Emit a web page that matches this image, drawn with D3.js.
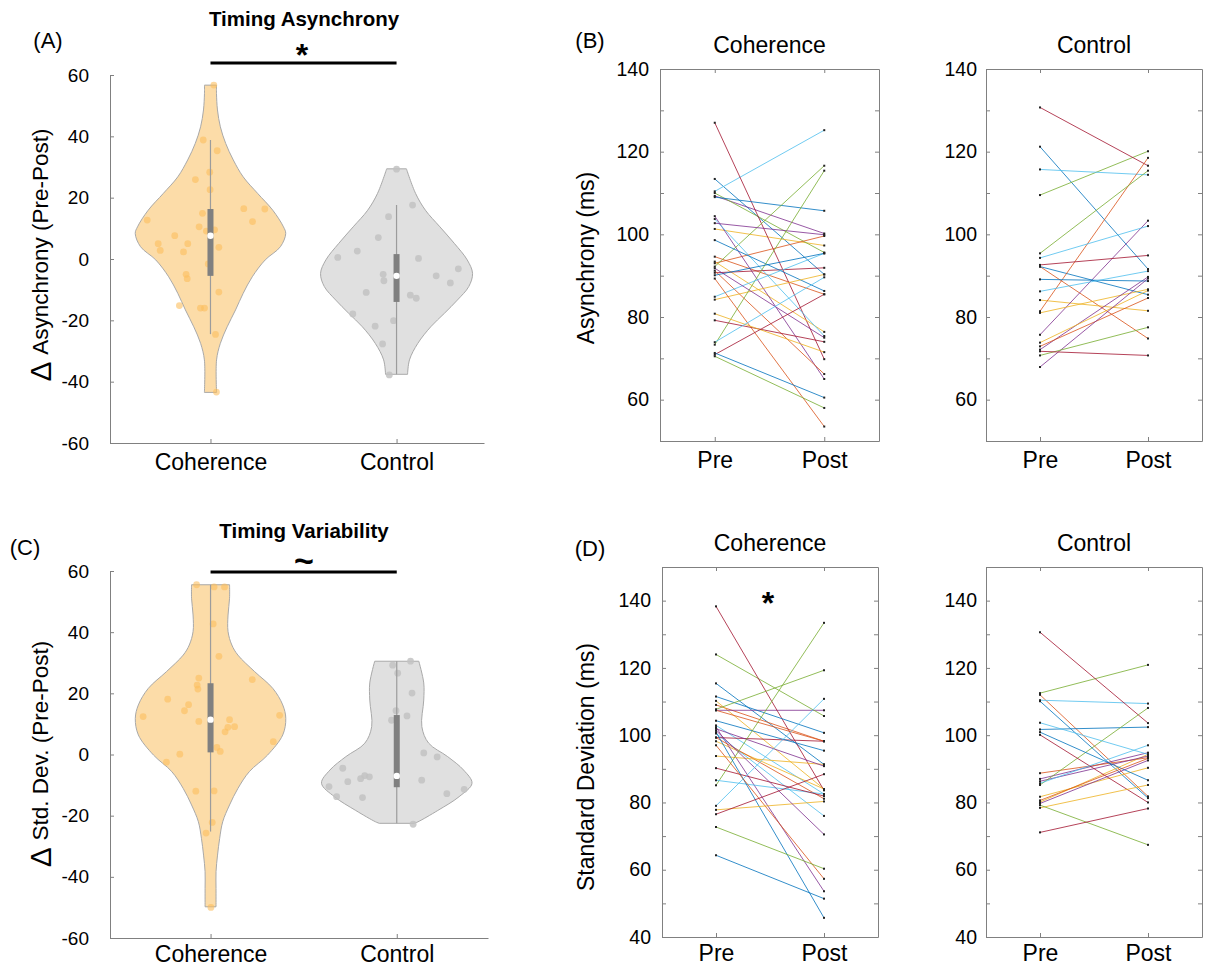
<!DOCTYPE html>
<html><head><meta charset="utf-8">
<script src="https://cdn.jsdelivr.net/npm/d3@7"></script>
<style>
body{margin:0;background:#fff}
text{font-family:"Liberation Sans",Arial,Helvetica,sans-serif;fill:#000}
</style>
</head><body>
<svg id="c" width="1205" height="969"></svg>
<script>
// ---------------- DATA ----------------
const groups = ["Coherence", "Control"];
const sessions = ["Pre", "Post"];
const palette = ["#0072BD","#D95319","#EDB120","#7E2F8E","#77AC30","#4DBEEE","#A2142F"];

// Panel A: change in asynchrony (Pre-Post), jittered points (value, jitter in category units)
const asyncCohVals = [56.7,38.8,35.3,28.3,25.9,22.6,16.4,16.3,14.9,12.2,12.7,10.5,9.5,9.1,7.6,5.0,5.0,2.8,2.3,3.8,-1.6,-5.0,-6.4,-10.8,-15.2,-16.0,-16.0,-24.6,-43.4];
const asyncCohJit  = [.018,-.039,.036,-.004,-.081,-.002,.179,.292,-.043,.226,-.340,-.061,.022,-.022,-.192,-.281,-.122,-.270,-.145,.045,-.012,-.131,-.125,.045,-.167,-.054,-.032,.027,.032];
const asyncCtlVals = [29.3,17.6,13.8,7.0,2.6,0.5,0.2,-3.2,-5.0,-7.1,-5.5,-7.8,-10.9,-11.8,-12.8,-17.9,-21.9,-20.1,-27.7,-37.8];
const asyncCtlJit  = [0,.086,-.043,-.098,-.211,-.316,.118,.332,-.072,-.068,.213,.289,-.163,.074,.106,-.235,-.115,-.016,-.075,-.039];
// violin density profiles (value, relative density)
const asyncCohProfV = [56.7,54.0,48.6,43.1,37.7,32.3,26.8,21.4,15.9,10.5,8.3,4.0,-0.3,-5.8,-11.2,-16.6,-22.1,-27.5,-32.9,-43.5];
const asyncCohProfD = [.079,.079,.092,.13,.20,.30,.43,.62,.82,.96,.99,.92,.72,.55,.43,.33,.22,.13,.08,.08];
const asyncCtlProfV = [29.4,21.4,15.9,10.5,5.1,-0.3,-4.7,-9.0,-13.4,-17.7,-22.1,-27.5,-32.9,-37.6];
const asyncCtlProfD = [.13,.25,.38,.57,.76,.93,1.0,.95,.80,.63,.45,.28,.17,.145];
// box stats: [whiskerLow, q1, median, q3, whiskerHigh]
const asyncCohBox = [-24.5,-5.5,7.6,16.3,38.8];
const asyncCtlBox = [-37.6,-14.0,-5.5,1.6,17.6];

// Panel C: change in std. dev.
const sdCohVals = [55.5,54.8,54.8,42.7,32.1,25.0,24.5,22.7,21.4,18.1,16.3,14.3,12.4,10.8,11.4,12.8,9.1,8.9,7.4,4.2,2.3,1.0,0.1,-2.5,-12.0,-11.9,-22.2,-25.7,-50.0];
const sdCohJit  = [-.075,.019,.075,.014,.045,-.063,.224,-.072,-.068,-.230,-.118,-.140,-.362,-.063,.102,.371,.129,.093,.078,.337,.034,.052,-.165,-.237,-.079,.019,.009,-.024,.002];
const sdCtlVals = [29.2,30.5,26.6,20.1,14.3,11.2,12.6,0.5,-0.8,-4.5,-6.9,-7.3,-7.9,-8.9,-8.4,-10.5,-12.8,-13.8,-14.1,-22.8,-11.4];
const sdCtlJit  = [-.022,.074,.005,.082,-.004,-.028,.055,.145,.217,-.290,-.172,-.147,-.194,-.263,.134,-.364,.269,-.323,-.184,.088,.362];
const sdCohProfV = [55.5,51.1,45.6,40.2,35.8,32.5,27.1,21.6,16.2,11.8,6.4,-0.2,-5.6,-11.1,-16.5,-22.0,-27.4,-32.9,-38.3,-43.8,-49.8];
const sdCohProfD = [.25,.25,.23,.23,.28,.36,.58,.82,.95,.99,.95,.75,.51,.36,.25,.16,.12,.092,.072,.072,.072];
const sdCtlProfV = [30.5,23.4,17.8,9.1,3.7,-0.7,-5.1,-9.4,-13.8,-18.3,-22.0,-22.5];
const sdCtlProfD = [.29,.355,.355,.33,.42,.67,.88,.99,.82,.54,.28,.23];
const sdCohBox = [-25.2,0.7,11.4,23.3,55.5];
const sdCtlBox = [-22.5,-10.7,-7.0,12.9,30.5];

// Panel B: asynchrony (ms), one line per participant, Pre -> Post
const asyncCohPre  = [113.4,94.6,101.3,109.3,110.0,110.4,127.0, 109.0,93.0,93.4,104.4,92.2,103.7,90.7, 98.6,91.2,84.2,102.7,73.3,84.9,79.2, 90.1,89.3,80.8,91.8,70.5,73.9,70.9, 71.3];
const asyncCohPost = [90.3,85.5,97.3,100.2,95.6,125.2,69.8, 105.7,99.6,76.4,65.0,116.6,75.4,91.9, 86.3,66.2,90.3,99.9,115.4,95.4,74.0, 95.4,53.5,71.5,75.0,58.0,89.6,85.5, 60.5];
const asyncCtlPre  = [121.2,92.2,84.1,75.7,109.5,115.7,130.7, 92.2,81.4,81.0,72.1,95.4,94.3,92.6, 89.1,72.9,73.8,67.9,70.7,86.2,71.7];
const asyncCtlPost = [91.6,74.8,81.5,103.3,120.1,114.4,116.6, 85.4,118.5,86.7,89.7,115.4,102.0,94.9, 88.7,84.6,86.4,89.3,77.5,91.1,70.7];

// Panel D: standard deviation (ms)
const sdCohPre  = [115.4,109.0,110.2,107.4,124.0,102.9,138.3, 111.5,107.4,98.2,102.4,107.7,100.5,99.3, 104.3,99.3,93.8,101.9,85.1,86.6,90.2, 100.9,97.0,77.8,101.4,72.7,79.0,76.5, 64.3];
const sdCohPost = [91.3,98.2,84.0,107.4,105.7,82.5,83.6, 100.7,98.2,84.0,53.6,119.3,76.0,98.2, 95.4,81.1,91.3,90.8,133.4,82.5,81.9, 45.7,57.3,80.3,70.5,60.3,110.8,88.4, 51.4];
const sdCtlPre  = [110.1,112.0,81.7,87.0,112.5,110.4,130.6, 101.7,88.7,80.1,86.3,85.2,103.7,100.1, 100.9,80.6,78.4,79.7,79.2,85.7,71.1];
const sdCtlPost = [81.3,81.8,90.3,94.8,120.9,109.4,103.6, 102.4,93.3,94.3,93.8,108.1,94.3,80.0, 86.6,93.1,85.2,92.5,67.4,97.0,78.2];

const deltaTicks = [-60,-40,-20,0,20,40,60];
const asyncTicks = [50,60,70,80,90,100,110,120,130,140];
const sdTicks = [40,50,60,70,80,90,100,110,120,130,140,150];

// ---------------- DRAW ----------------
const svg = d3.select("#c");
const FONT = '"Liberation Sans",Arial,Helvetica,sans-serif';
const AX = "#808080";

function styleAxis(sel, fs) {
  sel.selectAll("path.domain").attr("stroke", AX);
  sel.selectAll(".tick line").attr("stroke", AX);
  sel.selectAll(".tick text").attr("font-family", FONT).attr("font-size", fs).attr("fill", "#000");
}

function violinPanel(p) {
  const g = svg.append("g");
  const x = d3.scaleLinear().domain(p.xDomain).range([p.left, p.right]);
  const y = d3.scaleLinear().domain([-60, 60]).range([p.bottom, p.top]);
  const w = d3.scaleLinear().domain([0, 1]).range([0, 76]);
  const cols = [{fill:"#FCDCA8", dot:"#FBBE5E", dotOp:0.6}, {fill:"#E0E0E0", dot:"#C2C2C2", dotOp:0.85}];
  p.sets.forEach((s, i) => {
    const cx = x(i + 1);
    const prof = s.profV.map((v, k) => [v, s.profD[k]]);
    const area = d3.area().curve(d3.curveCatmullRom.alpha(0.5))
      .y(d => y(d[0])).x0(d => cx - w(d[1])).x1(d => cx + w(d[1]));
    g.append("path").attr("d", area(prof)).attr("fill", cols[i].fill)
      .attr("stroke", "#A9A9A9").attr("stroke-width", 1);
    g.selectAll(null).data(s.vals).join("circle")
      .attr("cx", (d, k) => x(i + 1 + s.jit[k])).attr("cy", d => y(d)).attr("r", 3.4)
      .attr("fill", cols[i].dot).attr("fill-opacity", cols[i].dotOp);
    const b = s.box;
    g.append("line").attr("x1", cx).attr("x2", cx).attr("y1", y(b[0])).attr("y2", y(b[4]))
      .attr("stroke", "#9C9C9C").attr("stroke-width", 1.2);
    g.append("rect").attr("x", cx - 3).attr("width", 6).attr("y", y(b[3])).attr("height", y(b[1]) - y(b[3]))
      .attr("fill", "#808080");
    g.append("circle").attr("cx", cx).attr("cy", y(b[2])).attr("r", 3.2).attr("fill", "#fff");
  });
  const ya = g.append("g").attr("transform", `translate(${p.left},0)`)
    .call(d3.axisLeft(y).tickValues(deltaTicks).tickFormat(d => String(d)).tickSizeInner(-4).tickSizeOuter(0).tickPadding(21));
  styleAxis(ya, 19);
  const xa = g.append("g").attr("transform", `translate(0,${p.bottom})`)
    .call(d3.axisBottom(x).tickValues([1, 2]).tickFormat(d => groups[d - 1]).tickSizeInner(-4).tickSizeOuter(0).tickPadding(p.xPad));
  styleAxis(xa, 23);
  // significance bar
  g.append("line").attr("x1", x(1)).attr("x2", x(2)).attr("y1", p.barY).attr("y2", p.barY)
    .attr("stroke", "#000").attr("stroke-width", 3);
}

function linePanel(p) {
  const g = svg.append("g");
  const x = d3.scaleLinear().domain([0.5, 2.5]).range([p.left, p.right]);
  const y = d3.scaleLinear().domain(p.yDomain).range([p.bottom, p.top]);
  p.pre.forEach((v, i) => {
    g.append("line").attr("x1", x(1)).attr("y1", y(v)).attr("x2", x(2)).attr("y2", y(p.post[i]))
      .attr("stroke", palette[i % 7]).attr("stroke-width", 1).attr("stroke-opacity", 0.8);
  });
  p.pre.forEach((v, i) => {
    g.append("rect").attr("x", x(1) - 1).attr("y", y(v) - 1).attr("width", 2).attr("height", 2).attr("fill", "#222");
    g.append("rect").attr("x", x(2) - 1).attr("y", y(p.post[i]) - 1).attr("width", 2).attr("height", 2).attr("fill", "#222");
  });
  const fmt = d => (d % 20 === 0 ? String(d) : "");
  const yl = g.append("g").attr("transform", `translate(${p.left},0)`)
    .call(d3.axisLeft(y).tickValues(p.ticks).tickFormat(fmt).tickSizeInner(-4).tickSizeOuter(0).tickPadding(p.pad));
  styleAxis(yl, 19.5);
  const yr = g.append("g").attr("transform", `translate(${p.right},0)`)
    .call(d3.axisRight(y).tickValues(p.ticks).tickFormat("").tickSizeInner(-4).tickSizeOuter(0));
  styleAxis(yr, 19.5);
  const xb = g.append("g").attr("transform", `translate(0,${p.bottom})`)
    .call(d3.axisBottom(x).tickValues([1, 2]).tickFormat(d => sessions[d - 1]).tickSizeInner(-4).tickSizeOuter(0).tickPadding(p.xPad));
  styleAxis(xb, 23);
  const xt = g.append("g").attr("transform", `translate(0,${p.top})`)
    .call(d3.axisTop(x).tickValues([1, 2]).tickFormat("").tickSizeInner(-4).tickSizeOuter(0));
  styleAxis(xt, 23);
  g.append("text").attr("x", (p.left + p.right) / 2).attr("y", p.top - 24).attr("text-anchor", "middle")
    .attr("dominant-baseline", "central").attr("font-size", 23).text(p.title);
}

// Panel A
violinPanel({left:110, right:484, top:75, bottom:443, xDomain:[0.46, 2.47], barY:63, xPad:11,
  sets:[{vals:asyncCohVals, jit:asyncCohJit, profV:asyncCohProfV, profD:asyncCohProfD, box:asyncCohBox},
        {vals:asyncCtlVals, jit:asyncCtlJit, profV:asyncCtlProfV, profD:asyncCtlProfD, box:asyncCtlBox}]});
// Panel C
violinPanel({left:110, right:488, top:571, bottom:938, xDomain:[0.46, 2.49], barY:572, xPad:8,
  sets:[{vals:sdCohVals, jit:sdCohJit, profV:sdCohProfV, profD:sdCohProfD, box:sdCohBox},
        {vals:sdCtlVals, jit:sdCtlJit, profV:sdCtlProfV, profD:sdCtlProfD, box:sdCtlBox}]});
// Panel B
linePanel({left:660, right:879, top:69, bottom:441, yDomain:[50,140], ticks:asyncTicks, pre:asyncCohPre, post:asyncCohPost, title:"Coherence", pad:11, xPad:11});
linePanel({left:986, right:1202, top:69, bottom:441, yDomain:[50,140], ticks:asyncTicks, pre:asyncCtlPre, post:asyncCtlPost, title:"Control", pad:9, xPad:11});
// Panel D
linePanel({left:662, right:878, top:567, bottom:937, yDomain:[40,150], ticks:sdTicks, pre:sdCohPre, post:sdCohPost, title:"Coherence", pad:11, xPad:8});
linePanel({left:986, right:1202, top:567, bottom:937, yDomain:[40,150], ticks:sdTicks, pre:sdCtlPre, post:sdCtlPost, title:"Control", pad:9, xPad:8});

// Text annotations
function txt(x, y, s, fs, opts = {}) {
  const t = svg.append("text").attr("x", x).attr("y", y).attr("font-size", fs)
    .attr("text-anchor", opts.anchor || "middle").attr("dominant-baseline", "central");
  if (opts.bold) t.attr("font-weight", "bold");
  if (opts.rotate) t.attr("transform", `rotate(-90,${x},${y})`);
  t.text(s);
  return t;
}
txt(48, 40, "(A)", 22);
txt(590, 40, "(B)", 22);
txt(25, 547, "(C)", 22);
txt(590, 548, "(D)", 22);
txt(304, 18, "Timing Asynchrony", 20.5, {bold:true});
txt(304, 530, "Timing Variability", 20.5, {bold:true});
txt(302, 55, "*", 32, {bold:true});
txt(304, 560, "~", 34, {bold:true});
txt(768, 603, "*", 32, {bold:true});

function deltaLabel(x, y, s) {
  const t = svg.append("text").attr("x", x).attr("y", y).attr("text-anchor", "middle")
    .attr("dominant-baseline", "central").attr("transform", `rotate(-90,${x},${y})`);
  t.append("tspan").attr("font-size", 30).text("Δ ");
  t.append("tspan").attr("font-size", 22.5).text(s);
}
deltaLabel(40, 255, "Asynchrony (Pre-Post)");
deltaLabel(40, 754, "Std. Dev. (Pre-Post)");
txt(586, 258, "Asynchrony (ms)", 23, {rotate:true});
txt(586, 767, "Standard Deviation (ms)", 23, {rotate:true});
</script>
</body></html>
